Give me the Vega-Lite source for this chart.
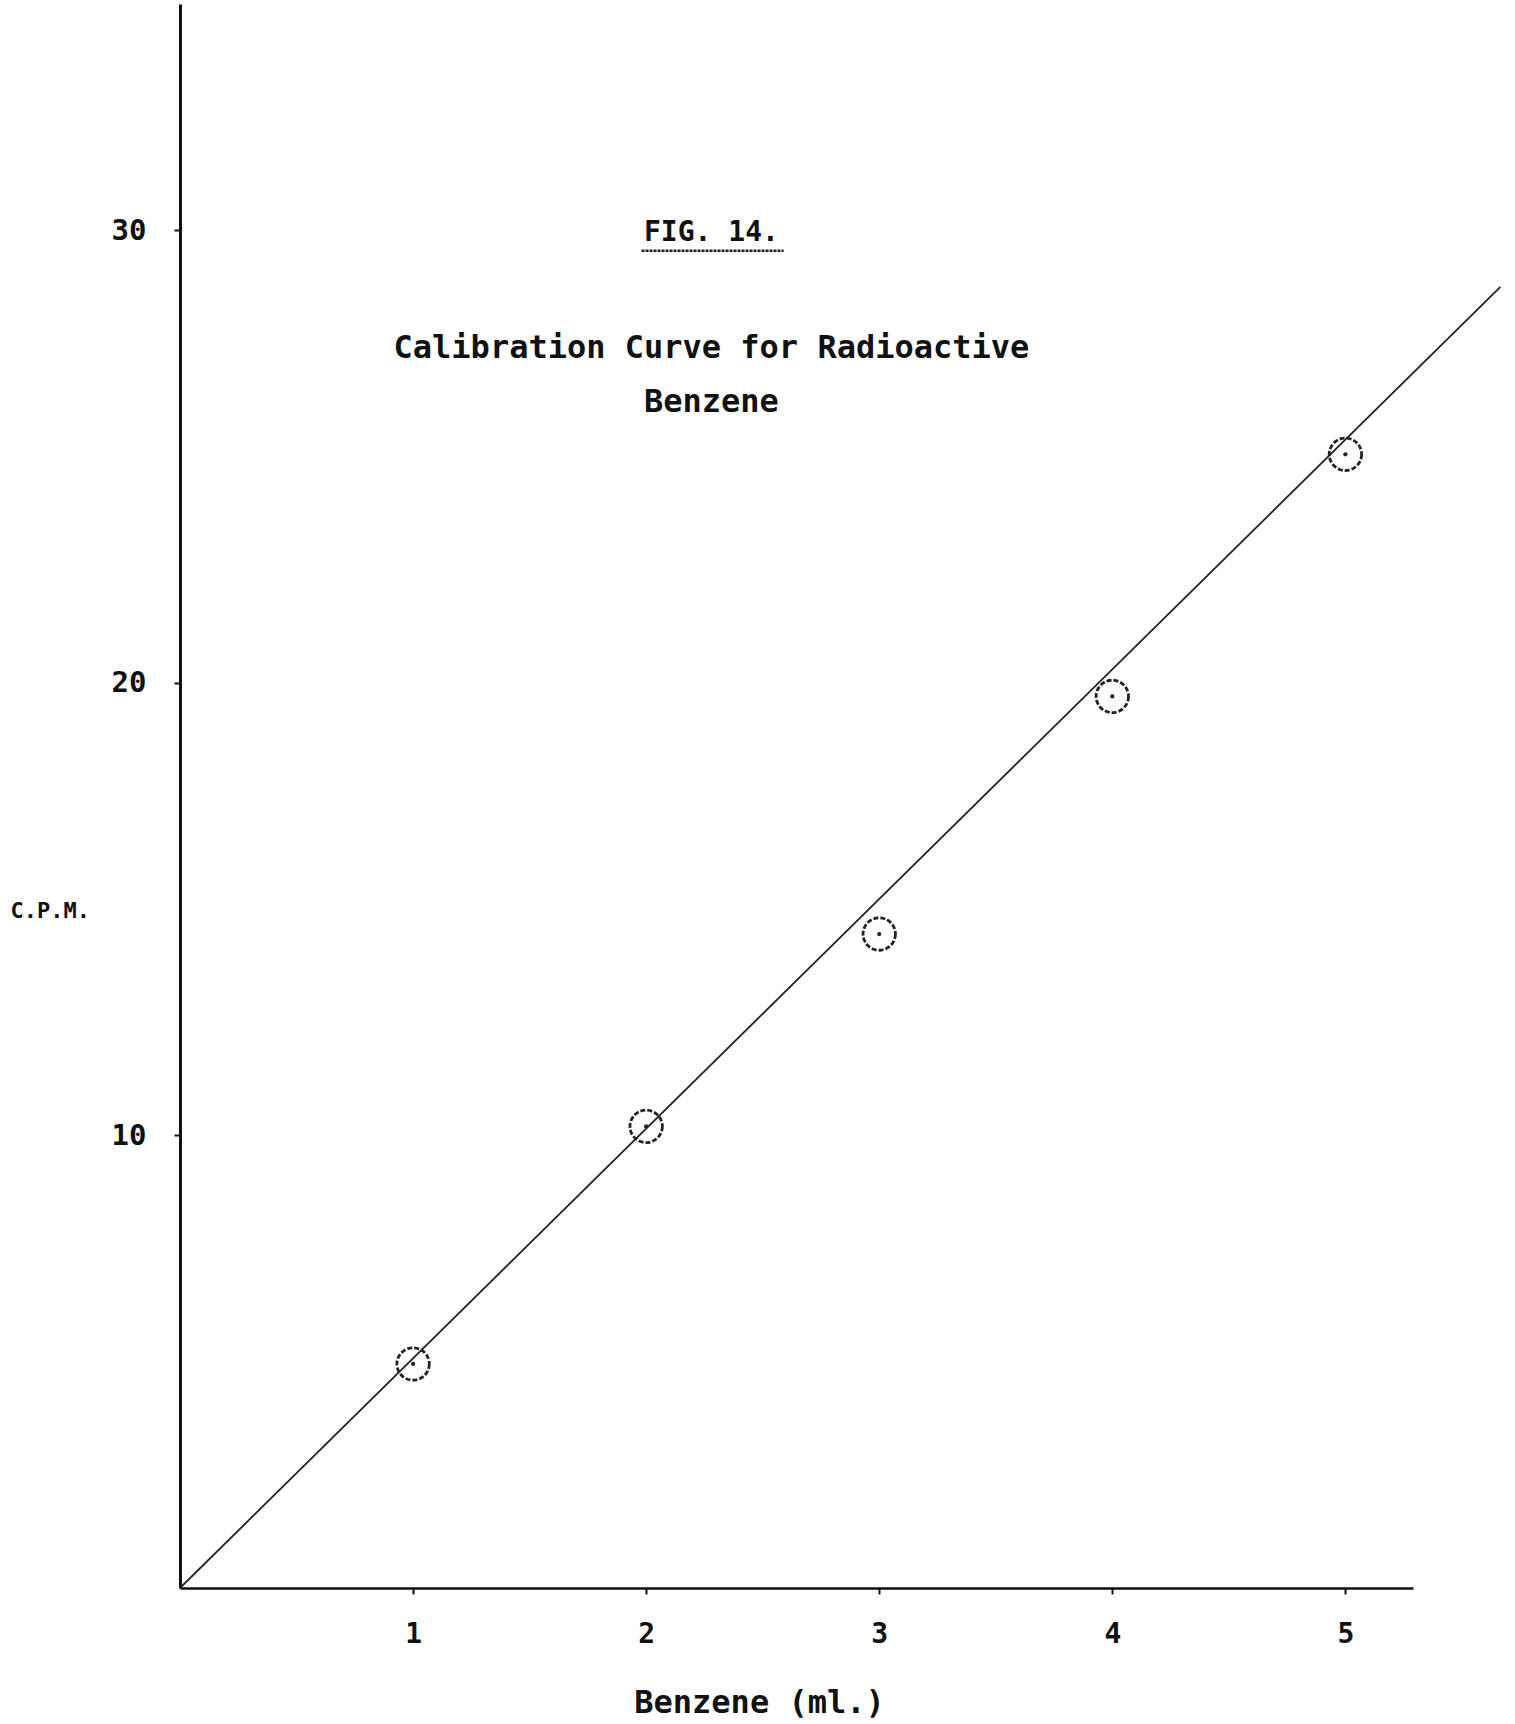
{
  "$schema": "https://vega.github.io/schema/vega-lite/v6.json",
  "width": 1233,
  "height": 1584,
  "autosize": "none",
  "padding": {"left": 180, "top": 4, "right": 102, "bottom": 136},
  "background": "white",
  "config": {
    "view": {"stroke": null},
    "axis": {
      "grid": false,
      "domainColor": "#111",
      "tickColor": "#111",
      "labelColor": "#111",
      "titleColor": "#111",
      "labelFont": "DejaVu Sans Mono",
      "titleFont": "DejaVu Sans Mono",
      "labelFontWeight": "bold",
      "titleFontWeight": "bold"
    }
  },
  "datasets": {
    "points": [
      {"benzene": 1, "cpm": 4.95},
      {"benzene": 2, "cpm": 10.2},
      {"benzene": 3, "cpm": 14.45},
      {"benzene": 4, "cpm": 19.7},
      {"benzene": 5, "cpm": 25.05}
    ],
    "fit": [
      {"benzene": 0, "cpm": 0},
      {"benzene": 5.665, "cpm": 28.75}
    ],
    "labels": [
      {"benzene": 2.28, "cpm": 29.95, "text": "FIG. 14.", "size": 28},
      {"benzene": 2.28, "cpm": 27.4, "text": "Calibration Curve for Radioactive", "size": 32},
      {"benzene": 2.28, "cpm": 26.2, "text": "Benzene", "size": 32}
    ],
    "underline": [
      {"x1": 1.98, "x2": 2.59, "cpm": 29.55}
    ]
  },
  "layer": [
    {
      "data": {"name": "fit"},
      "mark": {"type": "line", "color": "#222", "strokeWidth": 1.8, "clip": false},
      "encoding": {
        "x": {
          "field": "benzene", "type": "quantitative",
          "scale": {"domain": [0, 5.29], "nice": false, "zero": true},
          "axis": {
            "values": [1, 2, 3, 4, 5],
            "format": "d",
            "domainWidth": 2.5,
            "tickSize": 6,
            "tickWidth": 2,
            "labelFontSize": 28,
            "labelPadding": 26,
            "title": "Benzene (ml.)",
            "titleFontSize": 32,
            "titleX": 579,
            "titleY": 114,
            "titleAnchor": "middle",
            "titleAlign": "center",
            "titleBaseline": "middle"
          }
        },
        "y": {
          "field": "cpm", "type": "quantitative",
          "scale": {"domain": [0, 35], "nice": false, "zero": true},
          "axis": {
            "values": [10, 20, 30],
            "format": "d",
            "domainWidth": 3,
            "tickSize": 6,
            "tickWidth": 2,
            "labelFontSize": 29,
            "labelPadding": 28,
            "title": "C.P.M.",
            "titleAngle": 0,
            "titleFontSize": 22,
            "titleAlign": "left",
            "titleBaseline": "middle",
            "titleX": -170,
            "titleY": 906
          }
        }
      }
    },
    {
      "data": {"name": "points"},
      "mark": {"type": "point", "shape": "circle", "size": 1050, "filled": false, "color": "#222", "strokeWidth": 2.8, "strokeDash": [5, 2], "opacity": 1},
      "encoding": {
        "x": {"field": "benzene", "type": "quantitative"},
        "y": {"field": "cpm", "type": "quantitative"}
      }
    },
    {
      "data": {"name": "points"},
      "mark": {"type": "point", "shape": "circle", "size": 18, "filled": true, "color": "#222", "opacity": 1},
      "encoding": {
        "x": {"field": "benzene", "type": "quantitative"},
        "y": {"field": "cpm", "type": "quantitative"}
      }
    },
    {
      "data": {"name": "labels"},
      "mark": {"type": "text", "font": "DejaVu Sans Mono", "fontWeight": "bold", "color": "#111", "align": "center", "baseline": "middle"},
      "encoding": {
        "x": {"field": "benzene", "type": "quantitative"},
        "y": {"field": "cpm", "type": "quantitative"},
        "text": {"field": "text"},
        "size": {"field": "size", "type": "quantitative", "scale": null}
      }
    },
    {
      "data": {"name": "underline"},
      "mark": {"type": "rule", "color": "#222", "strokeWidth": 2.5, "strokeDash": [3, 1]},
      "encoding": {
        "x": {"field": "x1", "type": "quantitative"},
        "x2": {"field": "x2"},
        "y": {"field": "cpm", "type": "quantitative"}
      }
    }
  ]
}
